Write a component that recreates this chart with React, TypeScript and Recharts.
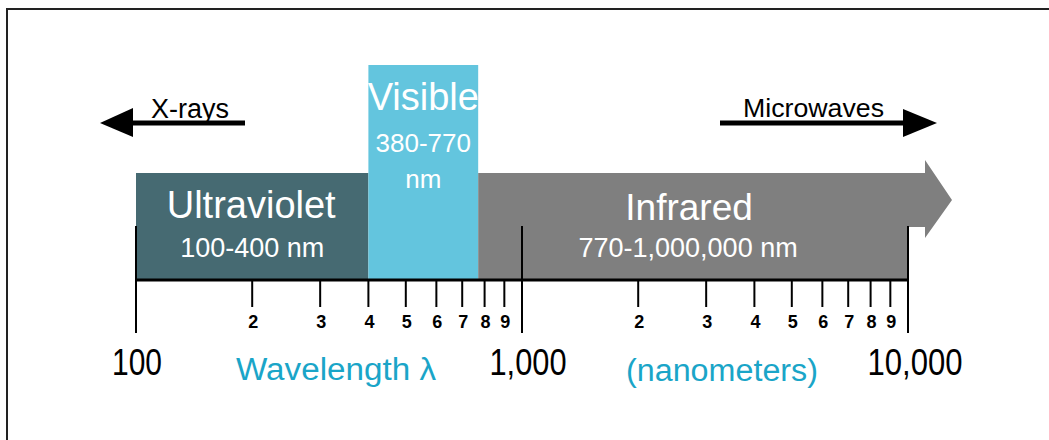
import React from "react";
import { ComposedChart, XAxis, YAxis, ReferenceArea, Line } from "recharts";

// spectrum bands (nm)
const bandNames = ["Ultraviolet", "Visible", "Infrared"];
const bandRanges = ["100-400 nm", "380-770 nm", "770-1,000,000 nm"];
const bandStart = [100, 400, 770];
const bandEnd = [400, 770, 1000000];

// axis ticks
const majorTicks = [100, 1000, 10000];
const majorLabels = ["100", "1,000", "10,000"];
const minorTicks = [200, 300, 400, 500, 600, 700, 800, 900, 2000, 3000, 4000, 5000, 6000, 7000, 8000, 9000];
const minorLabels = ["2", "3", "4", "5", "6", "7", "8", "9", "2", "3", "4", "5", "6", "7", "8", "9"];

const arrowLabels = ["X-rays", "Microwaves"];
const axisTitles = ["Wavelength \u03bb", "(nanometers)"];

const FONT = "'Liberation Sans', Arial, Helvetica, sans-serif";
const W = 1049;
const H = 440;
const DOMAIN_MAX = 10000;

const bandStyle: Record<string, { fill: string; top: number }> = {
  Ultraviolet: { fill: "#466a72", top: 107 },
  Visible: { fill: "#63c5de", top: 215 },
  Infrared: { fill: "#7f7f7f", top: 107 },
};

const allTicks = [...majorTicks, ...minorTicks].sort((a, b) => a - b);
const data = allTicks.map((v) => ({ x: v, y: 0 }));

const AxisTick = (props: any) => {
  const { x, y, payload } = props;
  const v = payload.value;
  const mi = majorTicks.indexOf(v);
  if (mi >= 0) {
    const widths = [50, 77, 95];
    const shift = [1, 6, 7];
    return (
      <g>
        <line x1={x} x2={x} y1={y - 54} y2={y + 53} stroke="#000" strokeWidth={2} />
        <text
          x={x + shift[mi]}
          y={y + 95}
          textAnchor="middle"
          fontFamily={FONT}
          fontSize={37}
          fill="#000"
          textLength={widths[mi]}
          lengthAdjust="spacingAndGlyphs"
        >
          {majorLabels[mi]}
        </text>
      </g>
    );
  }
  const i = minorTicks.indexOf(v);
  return (
    <g>
      <line x1={x} x2={x} y1={y} y2={y + 27} stroke="#000" strokeWidth={2} />
      <text x={x + 1} y={y + 48} textAnchor="middle" fontFamily={FONT} fontSize={18} fontWeight="bold" fill="#000">
        {minorLabels[i]}
      </text>
    </g>
  );
};

const renderBand = (p: any, i: number) => {
  const { x, y, width, height } = p;
  const name = bandNames[i];
  const fill = bandStyle[name].fill;
  const cx = x + width / 2;
  const white = { fill: "#fff", fontFamily: FONT, textAnchor: "middle" as const };
  if (name === "Visible") {
    const [a, b] = bandRanges[i].split(" ");
    return (
      <g>
        <rect x={x} y={y} width={width} height={height} fill={fill} />
        <text x={cx} y={y + 45} fontSize={38} {...white}>{name}</text>
        <text x={cx} y={y + 87} fontSize={26} {...white}>{a}</text>
        <text x={cx} y={y + 123} fontSize={26} {...white}>{b}</text>
      </g>
    );
  }
  if (name === "Infrared") {
    const xr = x + width;
    const yb = y + height;
    const d = `M${x},${y} H${xr + 17} V${y - 13} L${xr + 44},${y + 27} L${xr + 17},${y + 65} V${y + 54} H${xr} V${yb} H${x} Z`;
    return (
      <g>
        <path d={d} fill={fill} />
        <text x={cx - 4} y={y + 47} fontSize={37} {...white}>{name}</text>
        <text x={cx - 5} y={y + 84} fontSize={27} {...white}>{bandRanges[i]}</text>
      </g>
    );
  }
  return (
    <g>
      <rect x={x} y={y} width={width} height={height} fill={fill} />
      <text x={cx - 1} y={y + 45} fontSize={38} {...white}>{name}</text>
      <text x={cx} y={y + 84} fontSize={27} {...white}>{bandRanges[i]}</text>
    </g>
  );
};

export default function App() {
  return (
    <div style={{ position: "absolute", left: 0, top: 0, width: W, height: H, background: "#fff" }}>
      <ComposedChart width={W} height={H} data={data} margin={{ top: 40, right: 141, bottom: 100, left: 136 }}>
        <YAxis hide type="number" dataKey="y" domain={[0, 240]} allowDataOverflow />
        <Line dataKey="y" stroke="none" dot={false} activeDot={false} isAnimationActive={false} />
        {bandNames.map((name, i) => (
          <ReferenceArea
            key={name}
            x1={bandStart[i]}
            x2={Math.min(bandEnd[i], DOMAIN_MAX)}
            y1={0}
            y2={bandStyle[name].top}
            ifOverflow="visible"
            shape={(p: any) => renderBand(p, i)}
          />
        ))}
        <XAxis
          type="number"
          dataKey="x"
          scale="log"
          domain={[100, DOMAIN_MAX]}
          allowDataOverflow
          ticks={allTicks}
          interval={0}
          height={60}
          tickSize={0}
          tickMargin={0}
          tickLine={false}
          axisLine={{ stroke: "#000", strokeWidth: 3 }}
          tick={<AxisTick />}
        />
      </ComposedChart>
      <svg width={W} height={H} style={{ position: "absolute", left: 0, top: 0, pointerEvents: "none" }}>
        <line x1={6} x2={W} y1={9} y2={9} stroke="#222" strokeWidth={2} />
        <line x1={7} x2={7} y1={8} y2={H} stroke="#222" strokeWidth={2} />
        {/* X-rays arrow */}
        <line x1={130} x2={245} y1={123} y2={123} stroke="#000" strokeWidth={5} />
        <polygon points="100,123 133,108 133,137" fill="#000" />
        <text x={151} y={118} fontFamily={FONT} fontSize={27} fill="#000">{arrowLabels[0]}</text>
        {/* Microwaves arrow */}
        <line x1={720} x2={906} y1={123} y2={123} stroke="#000" strokeWidth={5} />
        <polygon points="903,109 937,123 903,137" fill="#000" />
        <text x={743} y={117} fontFamily={FONT} fontSize={26} fill="#000" textLength={141} lengthAdjust="spacingAndGlyphs">
          {arrowLabels[1]}
        </text>
        <text x={336} y={380} textAnchor="middle" fontFamily={FONT} fontSize={31} fill="#1aa5c8" textLength={200} lengthAdjust="spacingAndGlyphs">
          {axisTitles[0]}
        </text>
        <text x={722} y={381} textAnchor="middle" fontFamily={FONT} fontSize={31} fill="#1aa5c8" textLength={192} lengthAdjust="spacingAndGlyphs">
          {axisTitles[1]}
        </text>
      </svg>
    </div>
  );
}
